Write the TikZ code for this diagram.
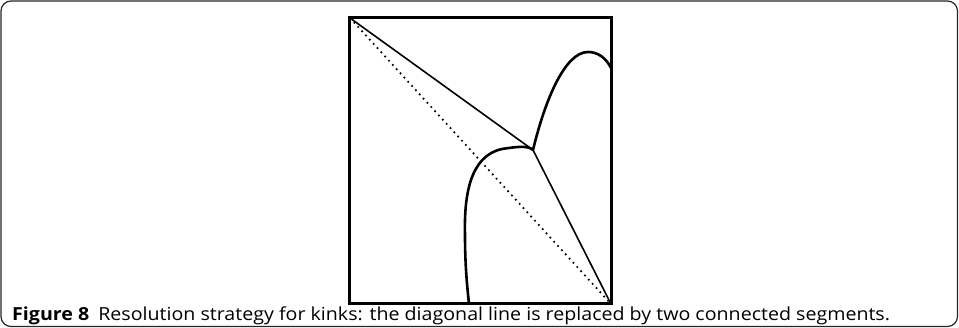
\documentclass[tikz,border=0pt]{standalone}
\usepackage{fontspec}
\setmainfont{Open Sans}[FakeStretch=1.09]
\begin{document}
\begin{tikzpicture}[x=1pt,y=-1pt,
  frame/.style={draw=black!85,line width=1.2pt,rounded corners=10pt},
  boxline/.style={draw=black,line width=3pt},
  seg/.style={draw=black,line width=1.6pt},
  curve/.style={draw=black,line width=2.6pt},
  diag/.style={draw=black,line width=1.7pt,dash pattern=on 1.7pt off 4pt}]
\useasboundingbox (0,0) rectangle (959,328);
\draw[frame] (1,1) rectangle (957.5,326.5);
\coordinate (tl) at (350,18);
\coordinate (br) at (611,304);
\coordinate (k) at (533,150);
\coordinate (ue) at (611,68);
\coordinate (le) at (469,304);
\draw[diag] (tl) -- (br);
\draw[seg] (tl) -- (k) -- (br);
\draw[curve] (k) .. controls (545,100) and (565,52) .. (588,52) .. controls (598,52) and (606,58) .. (ue);
\draw[curve] (k) .. controls (528,145) and (515,147) .. (502,149) .. controls (470,156) and (464,195) .. (465,235) .. controls (465,265) and (467,285) .. (le);
\draw[boxline] (349.5,18) rectangle (611,304);
\node[anchor=base west,inner sep=0pt,font=\fontsize{18}{22}\selectfont] (cap) at (12,321)
  {\textbf{Figure 8}\hspace{9pt}Resolution strategy for kinks: the diagonal line is replaced by two connected segments.};
\end{tikzpicture}
\end{document}
